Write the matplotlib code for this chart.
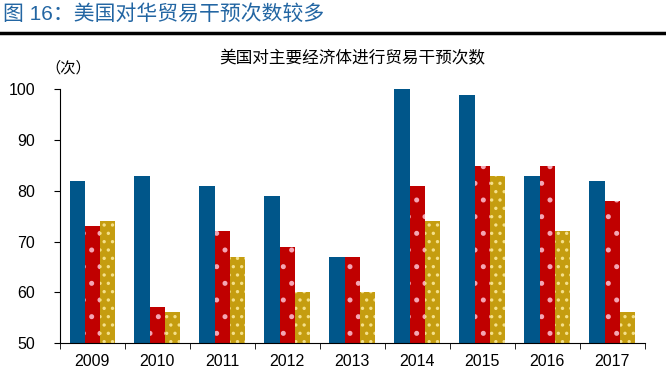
import numpy as np
import matplotlib.pyplot as plt

plt.rcParams['font.family'] = ['Liberation Sans', 'Noto Sans CJK SC', 'DejaVu Sans']
plt.rcParams['hatch.linewidth'] = 1.2

# === Data ===
years = ["2009", "2010", "2011", "2012", "2013", "2014", "2015", "2016", "2017"]
series_a = [82, 83, 81, 79, 67, 100, 99, 83, 82]
series_b = [73, 57, 72, 69, 67, 81, 85, 85, 78]
series_c = [74, 56, 67, 60, 60, 74, 83, 72, 56]

fig = plt.figure(figsize=(6.66, 3.84), dpi=100)

# === Header ===
fig.text(0.004, 0.963, "图 16：美国对华贸易干预次数较多", fontsize=15, color="#2366a3",
         va="center", ha="left")
fig.add_artist(plt.Line2D([0, 1], [0.914, 0.914], color="black", lw=2.5))

# === Chart ===
ax = fig.add_axes([0.09, 0.107, 0.878, 0.66])
x = np.arange(len(years))
w = 0.235

ax.bar(x - w, series_a, w, color="#00568a", edgecolor="#00568a", lw=0)
ax.bar(x, series_b, w, color="#c00000", edgecolor="#f4a6b4", hatch=".", lw=0)
ax.bar(x + w, series_c, w, color="#c59d10", edgecolor="#f5e08a", hatch="..", lw=0)

ax.set_ylim(50, 100)
ax.set_xlim(-0.5, len(years) - 0.5)
ax.set_yticks(range(50, 101, 10))
ax.tick_params(axis="y", direction="out", length=4, labelsize=11.5, pad=14)
ax.set_xticks(x)
ax.set_xticklabels(years, fontsize=11.5)
ax.set_xticks(np.arange(-0.5, len(years)), minor=True)
ax.tick_params(axis="x", which="major", length=0, pad=8)
ax.tick_params(axis="x", which="minor", direction="out", length=4)
for s in ["top", "right"]:
    ax.spines[s].set_visible(False)

ax.set_title("美国对主要经济体进行贸易干预次数", fontsize=12, pad=19)
fig.text(0.068, 0.822, "（次）", fontsize=11, ha="left", va="center")

plt.savefig("out.png", dpi=100)
